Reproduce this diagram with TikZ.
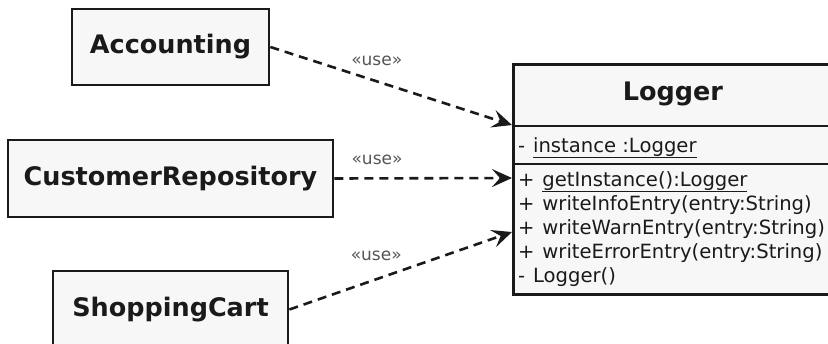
\documentclass[tikz,border=0pt]{standalone}
\usepackage{fontspec}
\setmainfont{DejaVu Sans}
\usetikzlibrary{arrows.meta}
\definecolor{boxfill}{HTML}{F7F7F7}
\definecolor{linecol}{HTML}{1A1A1A}
\definecolor{labelcol}{HTML}{555555}

\tikzset{
	classbox/.style={draw=linecol, line width=2.8pt, fill=boxfill, text=linecol,
		font=\fontsize{25.5}{30}\selectfont\bfseries, inner sep=0pt},
	uses/.style={draw=linecol, line width=2.6pt, dash pattern=on 9pt off 6pt,
		-{Stealth[length=20pt,width=18pt,inset=8pt]}},
	stereo/.style={font=\fontsize{17}{19}\selectfont, text=labelcol, inner sep=0pt},
	member/.style={font=\fontsize{19.6}{23}\selectfont, text=linecol, inner sep=0pt, anchor=base west}
}

\begin{document}
\begin{tikzpicture}[x=1pt,y=-1pt]
		\useasboundingbox (0,0) rectangle (828,343);
		\clip (0,0) rectangle (828,343);
		% clients
		\node [classbox, minimum width=197pt, minimum height=76pt] (accounting) at (170.5,47) {Accounting};
		\node [classbox, minimum width=325pt, minimum height=77pt] (customerrepo) at (170.5,178.5) {CustomerRepository};
		\node [classbox, minimum width=235pt, minimum height=77pt] (shoppingcart) at (170.5,309.5) {ShoppingCart};
		% singleton class
		\node [classbox, minimum width=322pt, minimum height=230pt, anchor=north west] (logger) at (512,63) {};
		\node [font=\fontsize{25.5}{30}\selectfont\bfseries, text=linecol, inner sep=0pt] (loggername) at (673,94) {Logger};
		\draw [linecol, line width=2.6pt] ([yshift=-63pt]logger.north west) -- ([yshift=-63pt]logger.north east);
		\draw [linecol, line width=2.6pt] ([yshift=-101pt]logger.north west) -- ([yshift=-101pt]logger.north east);
		\node [member] (attr) at (518,152) {-\hspace{0.4em}\underline{instance :Logger}};
		\foreach \i/\txt in {0/{+\hspace{0.4em}\underline{getInstance():Logger}},
				1/{+\hspace{0.4em}writeInfoEntry(entry:String)},
				2/{+\hspace{0.4em}writeWarnEntry(entry:String)},
				3/{+\hspace{0.4em}writeErrorEntry(entry:String)},
				4/{-\hspace{0.4em}Logger()}}
			\node [member] (member\i) at (518,186+24*\i) {\txt};
		% dependencies
		\coordinate (tipA) at (512,125);
		\coordinate (tipB) at (512,178);
		\coordinate (tipC) at (512,232);
		\draw [uses] (accounting.east) -- node [stereo, pos=0.44, above=14pt] (useA) {«use»} (tipA);
		\draw [uses] (customerrepo.east) -- node [stereo, pos=0.24, above=12pt] (useB) {«use»} (tipB);
		\draw [uses] (shoppingcart.east) -- node [stereo, pos=0.39, above=17pt] (useC) {«use»} (tipC);
	\end{tikzpicture}
\end{document}
